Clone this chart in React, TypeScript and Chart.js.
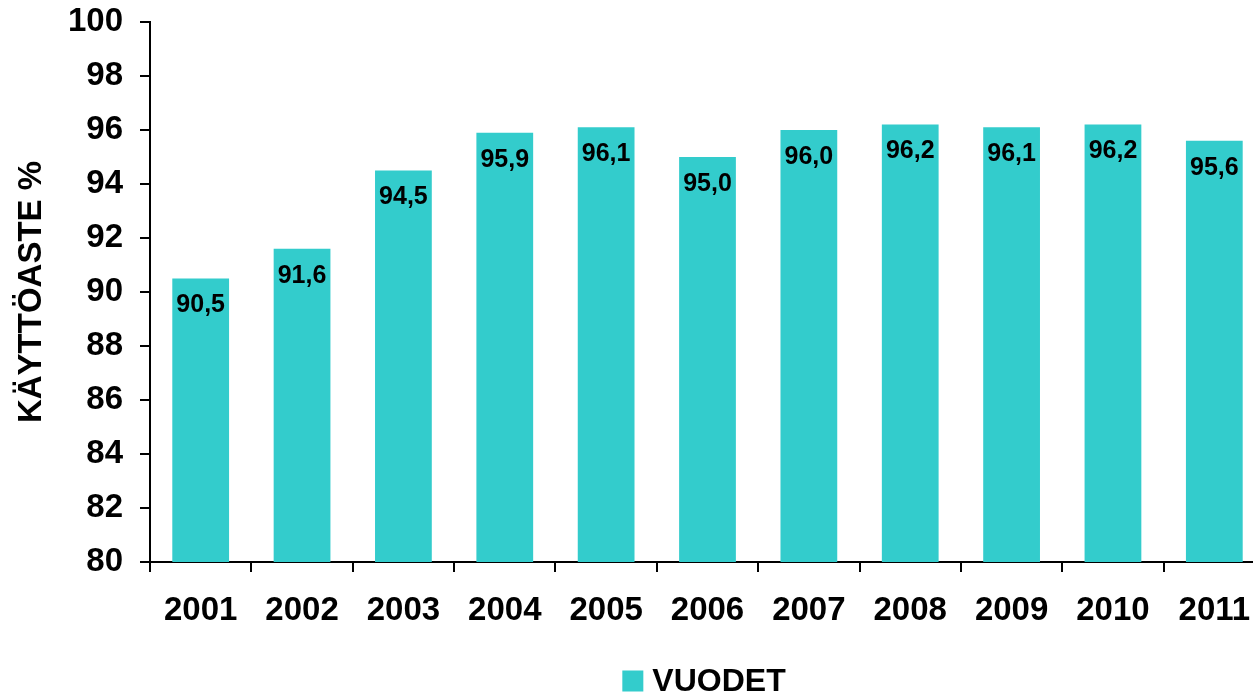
import React, { useEffect, useRef } from "react";
import { Chart, registerables } from "chart.js";

Chart.register(...registerables);

const years = ["2001", "2002", "2003", "2004", "2005", "2006", "2007", "2008", "2009", "2010", "2011"];
const usage = [90.5, 91.6, 94.5, 95.9, 96.1, 95.0, 96.0, 96.2, 96.1, 96.2, 95.6];
const seriesName = "VUODET";
const yTitle = "KÄYTTÖASTE %";
const yMin = 80;
const yMax = 100;
const yStep = 2;

const FONT = "'Liberation Sans', Arial, sans-serif";
const BAR = "#33CCCC";

const valueLabels = {
  id: "valueLabels",
  afterDatasetsDraw(chart: any) {
    const ctx = chart.ctx;
    const meta = chart.getDatasetMeta(0);
    ctx.save();
    ctx.font = `bold 25px ${FONT}`;
    ctx.fillStyle = "#000";
    ctx.textAlign = "center";
    ctx.textBaseline = "middle";
    meta.data.forEach((el: any, i: number) => {
      const v = chart.data.datasets[0].data[i] as number;
      ctx.fillText(v.toFixed(1).replace(".", ","), el.x, el.y + 27);
    });
    ctx.restore();
  },
};

const customLegend = {
  id: "customLegend",
  afterDraw(chart: any) {
    const ctx = chart.ctx;
    const ds = chart.data.datasets[0];
    ctx.save();
    ctx.font = `bold 32px ${FONT}`;
    const label = ds.label as string;
    const tw = ctx.measureText(label).width;
    const box = 21;
    const gap = 9;
    const total = box + gap + tw;
    const cx = 704;
    const cy = 681;
    const x0 = cx - total / 2;
    ctx.fillStyle = ds.backgroundColor;
    ctx.fillRect(x0, cy - box / 2, box, box);
    ctx.fillStyle = "#000";
    ctx.textAlign = "left";
    ctx.textBaseline = "middle";
    ctx.fillText(label, x0 + box + gap, cy + 1);
    ctx.restore();
  },
};

export default function App() {
  const ref = useRef<HTMLCanvasElement | null>(null);

  useEffect(() => {
    if (!ref.current) return;
    const chart = new Chart(ref.current, {
      type: "bar",
      data: {
        labels: years,
        datasets: [
          {
            label: seriesName,
            data: usage,
            backgroundColor: BAR,
            borderWidth: 0,
            barPercentage: 0.56,
            categoryPercentage: 1,
          },
        ],
      },
      options: {
        animation: false,
        responsive: true,
        maintainAspectRatio: false,
        layout: { padding: { top: 0, right: 15, bottom: 66, left: 0 } },
        plugins: {
          legend: { display: false },
          tooltip: { enabled: false },
        },
        scales: {
          x: {
            afterFit: (s: any) => {
              s.height = 67;
            },
            grid: {
              offset: true,
              drawOnChartArea: false,
              drawTicks: true,
              tickLength: 10,
              color: "#000",
              lineWidth: 2,
            },
            border: { display: true, color: "#000", width: 2 },
            ticks: {
              color: "#000",
              padding: 19,
              font: { family: FONT, size: 33, weight: "bold" },
              maxRotation: 0,
              autoSkip: false,
            },
          },
          y: {
            min: yMin,
            max: yMax,
            afterFit: (s: any) => {
              s.width = 150;
              s.paddingTop = 22;
              s.paddingBottom = 20;
            },
            grid: {
              drawOnChartArea: false,
              drawTicks: true,
              tickLength: 10,
              color: "#000",
              lineWidth: 2,
            },
            border: { display: true, color: "#000", width: 2 },
            ticks: {
              stepSize: yStep,
              color: "#000",
              padding: 17,
              font: { family: FONT, size: 33, weight: "bold" },
            },
            title: {
              display: true,
              text: yTitle,
              color: "#000",
              padding: { top: 12, bottom: 0 },
              font: { family: FONT, size: 33, weight: "bold" },
            },
          },
        },
      },
      plugins: [valueLabels, customLegend],
    });
    return () => chart.destroy();
  }, []);

  return (
    <div style={{ position: "fixed", left: 0, top: 0, width: "100vw", height: "100vh", overflow: "hidden", background: "#fff" }}>
      <div style={{ position: "relative", width: 1280, height: 695 }}>
        <canvas ref={ref} />
      </div>
    </div>
  );
}
